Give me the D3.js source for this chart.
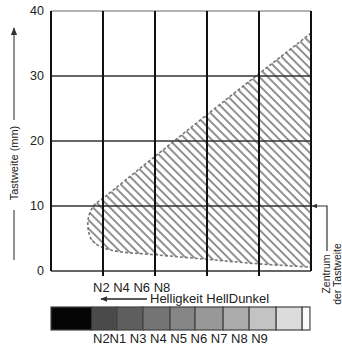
<!DOCTYPE html>
<html>
<head>
<meta charset="utf-8">
<script src="https://cdn.jsdelivr.net/npm/d3@7"></script>
<style>
  body { margin: 0; background: #fff; }
  text { font-family: "Liberation Sans", Arial, sans-serif; fill: #222; }
</style>
</head>
<body>
<div id="chart"></div>
<script>
// chart data
var yTicks = [0, 10, 20, 30, 40];
var columns = [0, 1, 2, 3, 4, 5];           // grid columns (brightness steps)
var xAxisText = "N2 N4 N6 N8";
var arrowText = "Helligkeit HellDunkel";
var yLabel = "Tastweite (mm)";
var centerLabel = ["Zentrum", "der Tastweite"];
var centerValue = 10;

// outline of the hatched region (column units, mm)
var regionX = [5, 3, 1.05, 0.82, 0.72, 0.72, 0.8, 1.0, 1.3, 2.0, 3.0, 4.0, 5];
var regionY = [36.6, 24.05, 11.5, 10.0, 8.2, 6.2, 4.6, 3.6, 3.0, 2.5, 1.8, 1.1, 0.6];

// grey scale strip: cell edges and grey values
var cellEdges = [0, 0.79, 1.27, 1.77, 2.29, 2.77, 3.31, 3.81, 4.33, 4.83, 4.98];
var cellGrey = ["#050505", "#4a4a4a", "#5e5e5e", "#747474", "#868686", "#989898", "#ababab", "#c3c3c3", "#dcdcdc", "#fafafa"];
var stripLabel = "N2N1 N3 N4 N5 N6 N7 N8 N9";

var svgWidth = 342;
var svgHeight = 345;
var margin = { top: 11, left: 51 };
var width = 260;
var height = 260;

var svg = d3.select("#chart")
  .append("svg")
  .attr("width", svgWidth)
  .attr("height", svgHeight);

var x = d3.scaleLinear().domain([0, 5]).range([margin.left, margin.left + width]);
var y = d3.scaleLinear().domain([0, 40]).range([margin.top + height, margin.top]);

// hatch pattern
var defs = svg.append("defs");
defs.append("pattern")
  .attr("id", "hatch")
  .attr("patternUnits", "userSpaceOnUse")
  .attr("width", 6)
  .attr("height", 6)
  .attr("patternTransform", "rotate(45)")
  .append("line")
  .attr("x1", 0).attr("y1", 3)
  .attr("x2", 6).attr("y2", 3)
  .attr("stroke", "#555")
  .attr("stroke-width", 1.3);

var pts = regionX.map((d, i) => [d, regionY[i]]);

// hatched area
var area = d3.line()
  .x(d => x(d[0]))
  .y(d => y(d[1]))
  .curve(d3.curveCatmullRom);

svg.append("path")
  .attr("d", area(pts) + "Z")
  .attr("fill", "url(#hatch)")
  .attr("stroke", "none");

// dashed boundary
svg.append("path")
  .attr("d", area(pts))
  .attr("fill", "none")
  .attr("stroke", "#777")
  .attr("stroke-width", 1.6)
  .attr("stroke-dasharray", "3,2");

// horizontal grid lines
svg.append("g").selectAll("line")
  .data(yTicks)
  .enter()
  .append("line")
  .attr("x1", x(0))
  .attr("x2", x(5))
  .attr("y1", d => y(d))
  .attr("y2", d => y(d))
  .attr("stroke", d => d === 40 ? "#666" : "#333")
  .attr("stroke-width", d => d === 40 ? 1.2 : 1.5);

// vertical grid lines (inner ones stick out below)
svg.append("g").selectAll("line")
  .data(columns)
  .enter()
  .append("line")
  .attr("x1", d => x(d))
  .attr("x2", d => x(d))
  .attr("y1", y(40))
  .attr("y2", d => (d === 0 || d === 5) ? y(0) : y(0) + 5)
  .attr("stroke", "#111")
  .attr("stroke-width", 2);

// y tick labels
svg.append("g").selectAll("text")
  .data(yTicks)
  .enter()
  .append("text")
  .attr("x", x(0) - 7)
  .attr("y", d => y(d) + 4)
  .attr("text-anchor", "end")
  .attr("font-size", "12.5px")
  .attr("fill", "#333")
  .text(d => d);

// y axis label with arrow
svg.append("text")
  .attr("transform", `translate(18, 163) rotate(-90)`)
  .attr("text-anchor", "middle")
  .attr("font-size", "11px")
  .text(yLabel);

defs.append("marker")
  .attr("id", "arrow")
  .attr("viewBox", "0 0 10 10")
  .attr("refX", 9).attr("refY", 5)
  .attr("markerWidth", 5).attr("markerHeight", 5)
  .attr("orient", "auto")
  .append("path")
  .attr("d", "M0,1 L10,5 L0,9 Z")
  .attr("fill", "#333");

svg.append("line")
  .attr("x1", 14).attr("x2", 14)
  .attr("y1", 120).attr("y2", 28)
  .attr("stroke", "#777").attr("stroke-width", 1.6)
  .attr("marker-end", "url(#arrow)");
svg.append("line")
  .attr("x1", 14).attr("x2", 14)
  .attr("y1", 210).attr("y2", 260)
  .attr("stroke", "#777").attr("stroke-width", 1.6);

// centre marker on the right
svg.append("path")
  .attr("d", `M${x(5) + 16},${y(0) - 20} L${x(5) + 16},${y(centerValue)} L${x(5) + 1},${y(centerValue)}`)
  .attr("fill", "none")
  .attr("stroke", "#333")
  .attr("stroke-width", 1.2)
  .attr("marker-end", "url(#arrow)");

svg.append("g").selectAll("text")
  .data(centerLabel)
  .enter()
  .append("text")
  .attr("transform", (d, i) => `translate(${330 + i * 10.5}, 274) rotate(-90)`)
  .attr("text-anchor", "middle")
  .attr("font-size", "10.5px")
  .text(d => d);

// x axis text
svg.append("text")
  .attr("x", 93)
  .attr("y", 292)
  .attr("font-size", "13px")
  .text(xAxisText);

svg.append("line")
  .attr("x1", 147).attr("x2", 101)
  .attr("y1", 299).attr("y2", 299)
  .attr("stroke", "#222").attr("stroke-width", 1.4)
  .attr("marker-end", "url(#arrow)");

svg.append("text")
  .attr("x", 150)
  .attr("y", 303)
  .attr("font-size", "13px")
  .text(arrowText);

// grey scale strip
var cells = cellGrey.map((c, i) => ({ x0: cellEdges[i], x1: cellEdges[i + 1], c: c }));

svg.append("g").selectAll("rect")
  .data(cells)
  .enter()
  .append("rect")
  .attr("x", d => x(d.x0))
  .attr("y", 307)
  .attr("width", d => x(d.x1) - x(d.x0))
  .attr("height", 23)
  .attr("fill", d => d.c)
  .attr("stroke", "#444")
  .attr("stroke-width", 1.2);

svg.append("text")
  .attr("x", 93)
  .attr("y", 343)
  .attr("font-size", "13px")
  .text(stripLabel);
</script>
</body>
</html>
